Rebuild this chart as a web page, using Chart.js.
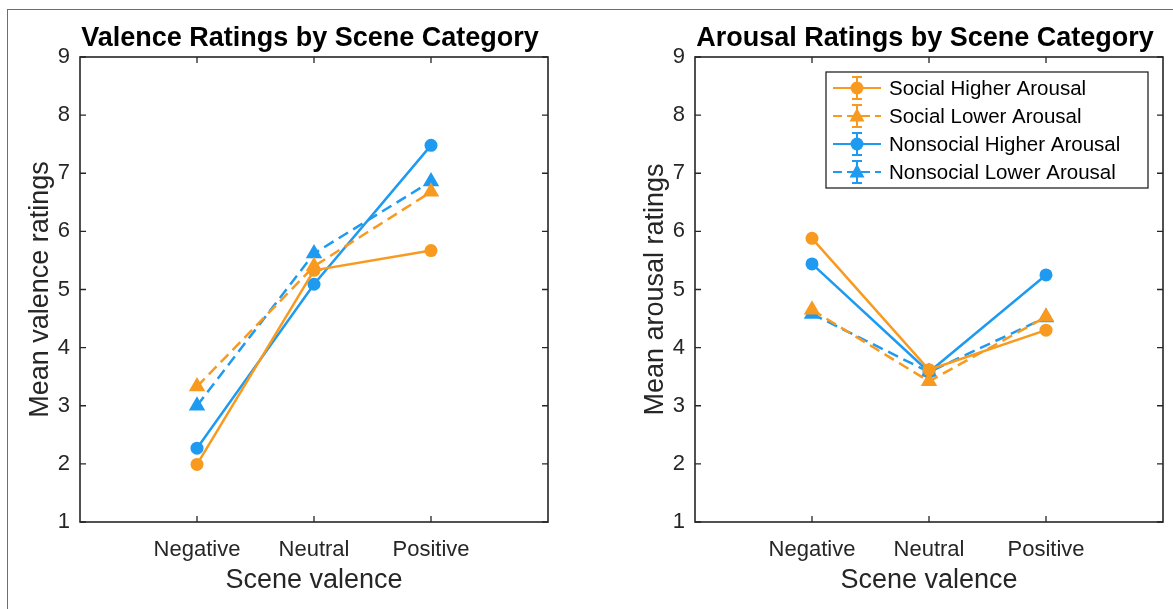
<!DOCTYPE html>
<html>
<head>
<meta charset="utf-8">
<script src="https://cdn.jsdelivr.net/npm/chart.js@4/dist/chart.umd.min.js"></script>
<style>
  html, body { margin: 0; padding: 0; background: #fff; }
  body { width: 1173px; height: 609px; position: relative; overflow: hidden; }
  #frame { position: absolute; left: 7px; top: 9px; width: 1180px; height: 620px; border: 1.5px solid #6e6e6e; box-sizing: border-box; }
  .box { position: absolute; top: 0; height: 609px; }
  #left { left: 0; width: 586px; }
  #right { left: 586px; width: 587px; }
</style>
</head>
<body>
<div id="frame"></div>
<div class="box" id="left"><canvas id="valence"></canvas></div>
<div class="box" id="right"><canvas id="arousal"></canvas></div>
<script>
const categories = ['Negative', 'Neutral', 'Positive'];
const yTicks = [1, 2, 3, 4, 5, 6, 7, 8, 9];
const seriesNames = ['Social Higher Arousal', 'Social Lower Arousal', 'Nonsocial Higher Arousal', 'Nonsocial Lower Arousal'];

// valence means (Negative, Neutral, Positive)
const valSocialHigh = [1.99, 5.33, 5.67];
const valSocialLow = [3.33, 5.40, 6.68];
const valNonsocialHigh = [2.27, 5.09, 7.48];
const valNonsocialLow = [3.00, 5.62, 6.86];

// arousal means
const aroSocialHigh = [5.88, 3.62, 4.30];
const aroSocialLow = [4.65, 3.42, 4.53];
const aroNonsocialHigh = [5.44, 3.58, 5.25];
const aroNonsocialLow = [4.58, 3.58, 4.52];

const orange = '#F89A20';
const blue = '#1E9BF0';
const ink = '#262626';
const fontFam = '"Liberation Sans", Arial, Helvetica, sans-serif';

function pts(vals) {
    return vals.map((v, i) => ({ x: i + 1, y: v }));
}

function makeSets(a, b, c, d) {
    const styles = [
        { color: orange, shape: 'circle', dash: [] },
        { color: orange, shape: 'triangle', dash: [11, 6] },
        { color: blue, shape: 'circle', dash: [] },
        { color: blue, shape: 'triangle', dash: [11, 6] }
    ];
    return [a, b, c, d].map((vals, i) => ({
        label: seriesNames[i],
        data: pts(vals),
        borderColor: styles[i].color,
        backgroundColor: styles[i].color,
        borderWidth: 2.5,
        borderDash: styles[i].dash,
        pointStyle: styles[i].shape,
        pointRadius: styles[i].shape === 'circle' ? 6.5 : 9.5,
        pointBorderWidth: 0,
        tension: 0
    }));
}

// box + inward ticks like matlab axes
const boxPlugin = {
    id: 'boxPlugin',
    afterDraw(chart) {
        const { ctx, chartArea: a, scales } = chart;
        ctx.save();
        ctx.strokeStyle = ink;
        ctx.lineWidth = 1.6;
        ctx.strokeRect(a.left, a.top, a.right - a.left, a.bottom - a.top);
        ctx.lineWidth = 1.3;
        ctx.beginPath();
        yTicks.forEach(t => {
            const y = scales.y.getPixelForValue(t);
            ctx.moveTo(a.left, y); ctx.lineTo(a.left + 6, y);
            ctx.moveTo(a.right, y); ctx.lineTo(a.right - 6, y);
        });
        categories.forEach((c, i) => {
            const x = scales.x.getPixelForValue(i + 1);
            ctx.moveTo(x, a.bottom); ctx.lineTo(x, a.bottom - 6);
            ctx.moveTo(x, a.top); ctx.lineTo(x, a.top + 6);
        });
        ctx.stroke();
        // title
        const t = chart.options.plugins.boxPlugin.title;
        ctx.fillStyle = '#000';
        ctx.font = 'bold 27px ' + fontFam;
        ctx.textAlign = 'center';
        ctx.textBaseline = 'middle';
        ctx.fillText(t, (a.left + a.right) / 2 - 4, a.top - 18);
        ctx.restore();
    }
};

function drawMarker(ctx, shape, x, y, color) {
    ctx.fillStyle = color;
    ctx.beginPath();
    if (shape === 'circle') {
        ctx.arc(x, y, 6.5, 0, Math.PI * 2);
    } else {
        ctx.moveTo(x, y - 8);
        ctx.lineTo(x + 7.5, y + 5.5);
        ctx.lineTo(x - 7.5, y + 5.5);
        ctx.closePath();
    }
    ctx.fill();
}

const legendPlugin = {
    id: 'legendPlugin',
    afterDraw(chart) {
        if (!chart.options.plugins.legendPlugin.show) return;
        const { ctx } = chart;
        const left = 826 - 586, top = 72, w = 322, h = 116;
        ctx.save();
        ctx.fillStyle = '#fff';
        ctx.fillRect(left, top, w, h);
        ctx.strokeStyle = ink;
        ctx.lineWidth = 1.3;
        ctx.strokeRect(left, top, w, h);
        chart.data.datasets.forEach((ds, i) => {
            const y = top + 16 + i * 28;
            const mx = left + 31;
            ctx.strokeStyle = ds.borderColor;
            ctx.lineWidth = 2.2;
            ctx.setLineDash(ds.borderDash.length ? [9, 5] : []);
            ctx.beginPath();
            ctx.moveTo(left + 7, y); ctx.lineTo(left + 55, y);
            ctx.stroke();
            ctx.setLineDash([]);
            ctx.lineWidth = 2;
            ctx.beginPath();
            ctx.moveTo(mx, y - 11); ctx.lineTo(mx, y + 11);
            ctx.moveTo(mx - 5, y - 11); ctx.lineTo(mx + 5, y - 11);
            ctx.moveTo(mx - 5, y + 11); ctx.lineTo(mx + 5, y + 11);
            ctx.stroke();
            drawMarker(ctx, ds.pointStyle, mx, y, ds.borderColor);
            ctx.fillStyle = '#000';
            ctx.font = '20.5px ' + fontFam;
            ctx.textAlign = 'left';
            ctx.textBaseline = 'middle';
            ctx.fillText(ds.label, left + 63, y + 1);
        });
        ctx.restore();
    }
};

function makeChart(id, sets, title, yTitle, yWidth, padRight, yTitlePad, showLegend) {
    const ctx = document.getElementById(id).getContext('2d');
    return new Chart(ctx, {
        type: 'line',
        data: { datasets: sets },
        plugins: [boxPlugin, legendPlugin],
        options: {
            responsive: true,
            maintainAspectRatio: false,
            animation: false,
            layout: { padding: { top: 57, right: padRight, bottom: 0, left: 0 } },
            plugins: {
                legend: { display: false },
                tooltip: { enabled: false },
                boxPlugin: { title },
                legendPlugin: { show: showLegend }
            },
            scales: {
                x: {
                    type: 'linear',
                    min: 0,
                    max: 4,
                    afterBuildTicks: s => { s.ticks = categories.map((c, i) => ({ value: i + 1 })); },
                    afterFit: s => { s.height = 87; },
                    grid: { display: false, drawTicks: false },
                    border: { display: false },
                    ticks: {
                        padding: 15,
                        color: '#262626',
                        font: { family: fontFam, size: 22 },
                        maxRotation: 0,
                        callback: v => categories[v - 1] || ''
                    },
                    title: {
                        display: true,
                        text: 'Scene valence',
                        color: '#262626',
                        font: { family: fontFam, size: 27 },
                        padding: { top: 0, bottom: 12 }
                    }
                },
                y: {
                    min: 1,
                    max: 9,
                    afterBuildTicks: s => { s.ticks = yTicks.map(v => ({ value: v })); },
                    afterFit: s => { s.width = yWidth; },
                    grid: { display: false, drawTicks: false },
                    border: { display: false },
                    ticks: {
                        padding: 10,
                        color: '#262626',
                        font: { family: fontFam, size: 22 }
                    },
                    title: {
                        display: true,
                        text: yTitle,
                        color: '#262626',
                        font: { family: fontFam, size: 27 },
                        padding: { top: yTitlePad, bottom: 0 }
                    }
                }
            }
        }
    });
}

makeChart('valence', makeSets(valSocialHigh, valSocialLow, valNonsocialHigh, valNonsocialLow),
    'Valence Ratings by Scene Category', 'Mean valence ratings', 80, 38, 24, false);
makeChart('arousal', makeSets(aroSocialHigh, aroSocialLow, aroNonsocialHigh, aroNonsocialLow),
    'Arousal Ratings by Scene Category', 'Mean arousal ratings', 109, 10, 53, true);
</script>
</body>
</html>
